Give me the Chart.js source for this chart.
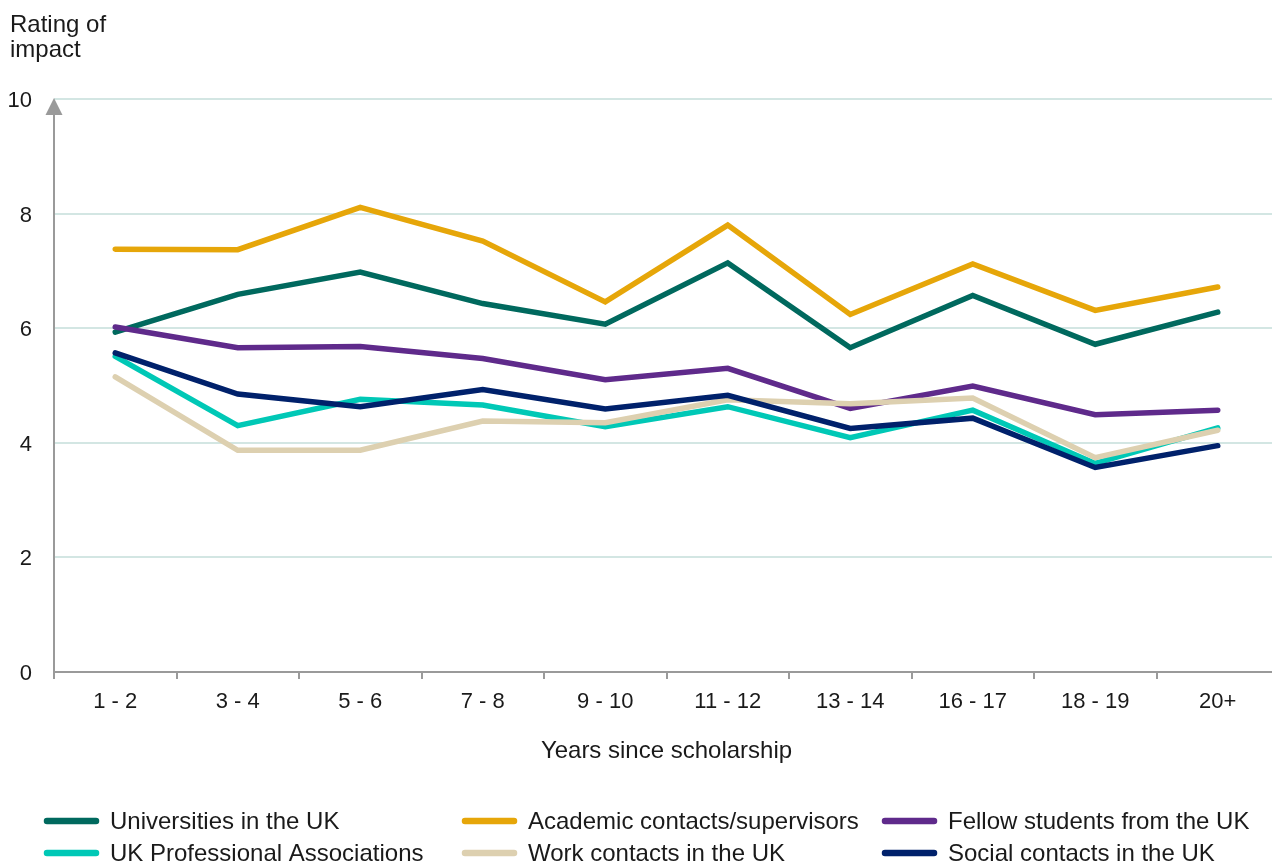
<!DOCTYPE html>
<html>
<head>
<meta charset="utf-8">
<title>Rating of impact by years since scholarship</title>
<script src="https://cdn.jsdelivr.net/npm/chart.js@4"></script>
<style>
  html, body { margin: 0; padding: 0; background: #fff; overflow: hidden; }
  canvas { display: block; }
</style>
</head>
<body>
<canvas id="impact-chart" width="1285" height="864"></canvas>
<script>
var years = ["1 - 2", "3 - 4", "5 - 6", "7 - 8", "9 - 10", "11 - 12", "13 - 14", "16 - 17", "18 - 19", "20+"];

var universities = [5.93, 6.59, 6.98, 6.43, 6.07, 7.14, 5.66, 6.57, 5.72, 6.28];
var academicContacts = [7.38, 7.37, 8.11, 7.52, 6.46, 7.80, 6.24, 7.12, 6.31, 6.72];
var fellowStudents = [6.02, 5.66, 5.68, 5.47, 5.10, 5.30, 4.60, 4.99, 4.49, 4.57];
var professionalAssociations = [5.51, 4.30, 4.76, 4.66, 4.28, 4.63, 4.09, 4.57, 3.64, 4.26];
var workContacts = [5.15, 3.87, 3.87, 4.38, 4.35, 4.75, 4.68, 4.78, 3.74, 4.22];
var socialContacts = [5.57, 4.85, 4.63, 4.93, 4.59, 4.83, 4.25, 4.43, 3.57, 3.95];

var yTicks = [0, 2, 4, 6, 8, 10];

var FONT = "'Liberation Sans', Arial, sans-serif";
var TEXT = "#1a1a1a";
var AXIS = "#9a9a9a";

var series = [
  { label: "Universities in the UK", data: universities, color: "#00695e" },
  { label: "Academic contacts/supervisors", data: academicContacts, color: "#e6a609" },
  { label: "Fellow students from the UK", data: fellowStudents, color: "#5f2a8b" },
  { label: "UK Professional Associations", data: professionalAssociations, color: "#00c8b6" },
  { label: "Work contacts in the UK", data: workContacts, color: "#ddd0b0" },
  { label: "Social contacts in the UK", data: socialContacts, color: "#00216b" },
];

// axis titles, arrow on the y axis and the three-column legend
var extrasPlugin = {
  id: "extras",
  afterDraw: function (chart) {
    var ctx = chart.ctx;
    var area = chart.chartArea;
    ctx.save();

    // y axis with arrow head
    ctx.strokeStyle = AXIS;
    ctx.fillStyle = AXIS;
    ctx.lineWidth = 2;
    ctx.beginPath();
    ctx.moveTo(area.left, area.bottom);
    ctx.lineTo(area.left, area.top + 14);
    ctx.stroke();
    ctx.beginPath();
    ctx.moveTo(area.left, area.top - 1);
    ctx.lineTo(area.left - 8.5, area.top + 16);
    ctx.lineTo(area.left + 8.5, area.top + 16);
    ctx.closePath();
    ctx.fill();

    ctx.fillStyle = TEXT;
    ctx.font = "24px " + FONT;
    ctx.textBaseline = "alphabetic";
    ctx.textAlign = "left";
    ctx.fillText("Rating of", 10, 32);
    ctx.fillText("impact", 10, 57);

    ctx.textAlign = "center";
    ctx.fillText("Years since scholarship", (area.left + area.right) / 2, 758);

    // legend
    var cols = [44, 462, 882];
    var rows = [821, 853];
    ctx.textAlign = "left";
    ctx.textBaseline = "middle";
    ctx.lineCap = "round";
    ctx.lineWidth = 6.5;
    chart.data.datasets.forEach(function (ds, i) {
      var x = cols[i % 3];
      var y = rows[Math.floor(i / 3)];
      ctx.strokeStyle = ds.borderColor;
      ctx.beginPath();
      ctx.moveTo(x + 3, y);
      ctx.lineTo(x + 52, y);
      ctx.stroke();
      ctx.fillStyle = TEXT;
      ctx.fillText(ds.label, x + 66, y + 1);
    });
    ctx.restore();
  },
};

new Chart(document.getElementById("impact-chart"), {
  type: "line",
  data: {
    labels: years,
    datasets: series.map(function (s, i) {
      return {
        label: s.label,
        data: s.data,
        borderColor: s.color,
        backgroundColor: s.color,
        borderWidth: 5.5,
        borderCapStyle: "round",
        borderJoinStyle: "miter",
        pointRadius: 0,
        tension: 0,
        order: series.length - i,
      };
    }),
  },
  options: {
    responsive: false,
    animation: false,
    layout: { padding: { top: 99, right: 6, left: 0, bottom: 0 } },
    plugins: {
      legend: { display: false },
      tooltip: { enabled: false },
    },
    scales: {
      x: {
        offset: true,
        afterFit: function (scale) { scale.height = 192; },
        border: { display: true, color: AXIS, width: 2 },
        grid: {
          offset: true,
          drawOnChartArea: false,
          drawTicks: true,
          tickLength: 7,
          color: AXIS,
          lineWidth: 2,
        },
        ticks: {
          color: TEXT,
          font: { family: FONT, size: 22 },
          padding: 10,
          maxRotation: 0,
          autoSkip: false,
        },
      },
      y: {
        min: 0,
        max: 10,
        afterFit: function (scale) { scale.width = 54; },
        afterBuildTicks: function (scale) {
          scale.ticks = yTicks.map(function (v) { return { value: v }; });
        },
        border: { display: false },
        grid: {
          drawTicks: false,
          lineWidth: 2,
          color: function (c) { return c.tick && c.tick.value === 0 ? "transparent" : "#d3e6e3"; },
        },
        ticks: {
          color: TEXT,
          font: { family: FONT, size: 22 },
          padding: 22,
          labelOffset: 2,
        },
      },
    },
  },
  plugins: [extrasPlugin],
});
</script>
</body>
</html>
